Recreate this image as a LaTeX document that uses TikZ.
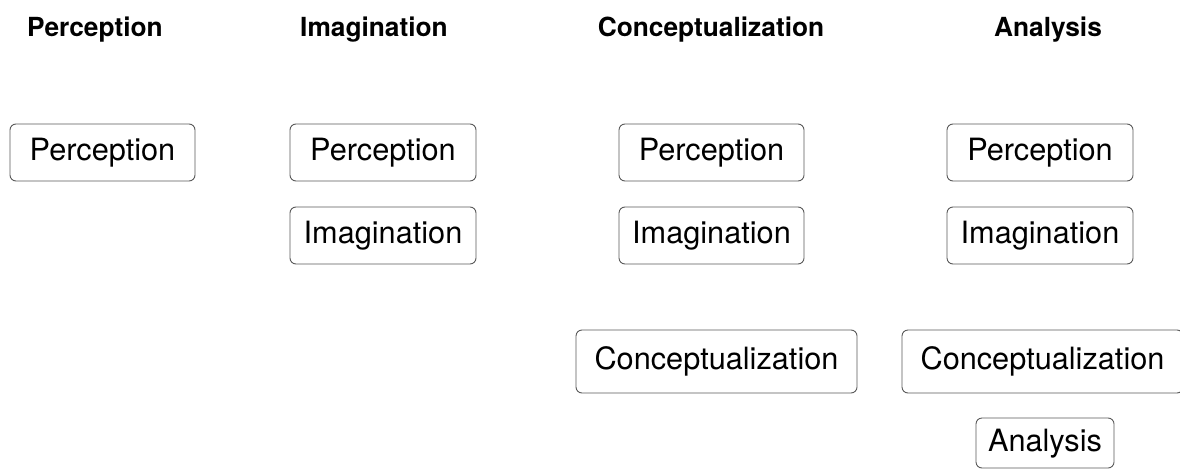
\documentclass[tikz,border=0pt]{standalone}
\usepackage{fontspec}
\setmainfont{TeX Gyre Heros}
\begin{document}
\begin{tikzpicture}[x=1pt,y=-1pt,
  stagebox/.style={draw=black!65, line width=0.9pt, rounded corners=6pt,
    inner sep=0pt, minimum height=57pt, text height=22pt, text depth=6pt,
    font=\fontsize{30.7}{36}\selectfont},
  stagetitle/.style={anchor=base, inner sep=0pt,
    font=\fontsize{26.3}{30}\selectfont\bfseries}]
\useasboundingbox (0,0) rectangle (1180,471);
\clip (0,0) rectangle (1180,471);
\fill[white] (0,0) rectangle (1180,471);

% column headings
\node[stagetitle] (t1) at (95,36) {Perception};
\node[stagetitle] (t2) at (374,36) {Imagination};
\node[stagetitle] (t3) at (711,36) {Conceptualization};
\node[stagetitle] (t4) at (1048,36) {Analysis};

% column 1
\node[stagebox, minimum width=185pt] (p1) at (102.5,152.5) {Perception};

% column 2
\node[stagebox, minimum width=186pt] (p2) at (383,152.5) {Perception};
\node[stagebox, minimum width=186pt] (i2) at (383,235.5) {Imagination};

% column 3
\node[stagebox, minimum width=185pt] (p3) at (711.5,152.5) {Perception};
\node[stagebox, minimum width=185pt] (i3) at (711.5,235.5) {Imagination};
\node[stagebox, minimum width=281pt, minimum height=63pt] (c3) at (716.5,361.5) {Conceptualization};

% column 4
\node[stagebox, minimum width=186pt] (p4) at (1040,152.5) {Perception};
\node[stagebox, minimum width=186pt] (i4) at (1040,235.5) {Imagination};
\node[stagebox, minimum width=281pt, minimum height=63pt] (c4) at (1042.5,361.5) {Conceptualization};
\node[stagebox, minimum width=138pt, minimum height=50pt] (a4) at (1045,443) {Analysis};
\end{tikzpicture}
\end{document}
